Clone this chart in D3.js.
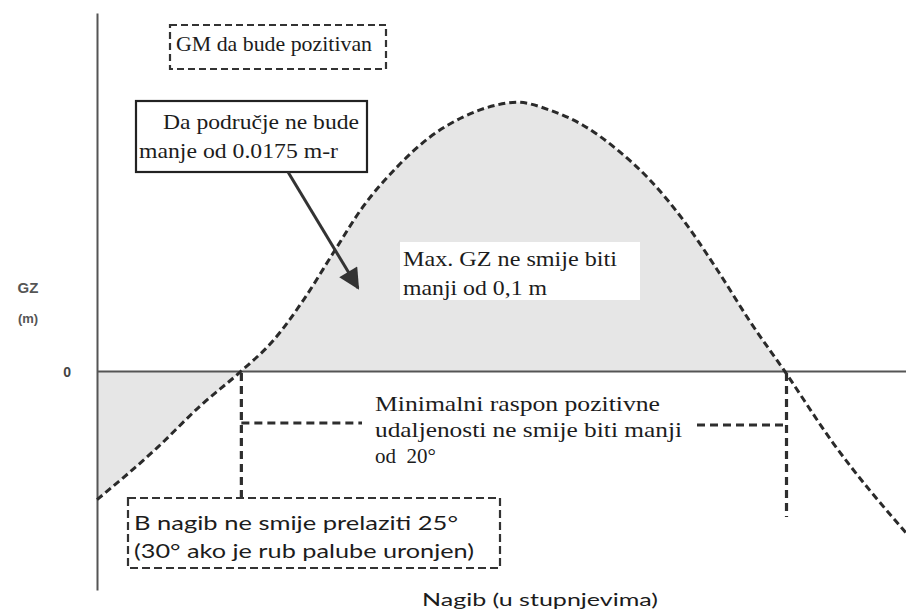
<!DOCTYPE html>
<html><head><meta charset="utf-8">
<script src="https://cdn.jsdelivr.net/npm/d3@7"></script>
<style>body{margin:0;background:#fff}svg{display:block}text{white-space:pre}</style>
</head><body>
<svg id="c" width="906" height="615"></svg>
<script>
// ---- data ----
const heelDeg  = [0, 4.2, 7.2, 10.1, 12.3, 14.5, 16.6, 18.6, 21.0, 23.3, 25.6, 28.0, 29.4, 31.7, 34.0, 36.4, 38.7, 41.0, 43.4, 45.7, 48.1, 51.5, 56.6];
const gzMetres = [-0.241, -0.144, -0.066, 0, 0.056, 0.135, 0.224, 0.307, 0.382, 0.438, 0.475, 0.498, 0.503, 0.488, 0.460, 0.414, 0.357, 0.283, 0.189, 0.092, 0, -0.135, -0.303];
const yTickValues = [0];
const yTickLabels = ["0"];
const yTitle = ["GZ", "(m)"];
const xTitle = "Nagib (u stupnjevima)";
const rangeStartDeg = 10.1;
const rangeEndDeg = 48.1;
const noteGM = ["GM da bude pozitivan"];
const noteArea = ["Da područje ne bude", "manje od 0.0175 m-r"];
const noteMax = ["Max. GZ ne smije biti", "manji od 0,1 m"];
const noteRange = ["Minimalni raspon pozitivne", "udaljenosti ne smije biti manji", "od  20°"];
const noteHeel = ["B nagib ne smije prelaziti 25°", "(30° ako je rub palube uronjen)"];

const pts = heelDeg.map((d, i) => ({x: d, y: gzMetres[i]}));

const svg = d3.select("#c");
const x = d3.scaleLinear().domain([0, 56.6]).range([97, 906]);
const y = d3.scaleLinear().domain([-0.41, 0.67]).range([590, 13]);

const ink = "#1c1c1c";
const serif = "'Liberation Serif', 'DejaVu Serif', serif";
const sans = "Lato, 'Open Sans', sans-serif";

// shaded area between curve and zero line up to the second zero crossing
const fillPts = pts.filter(p => p.x <= rangeEndDeg);
svg.append("path")
  .datum(fillPts)
  .attr("fill", "#e6e6e6")
  .attr("d", d3.area().x(p => x(p.x)).y0(y(0)).y1(p => y(p.y)).curve(d3.curveMonotoneX));

// axes
const yAxis = svg.append("g").attr("transform", `translate(${x(0)},0)`)
  .call(d3.axisLeft(y).tickValues(yTickValues).tickFormat((d, i) => yTickLabels[i]).tickSize(0).tickPadding(26));
yAxis.select(".domain").attr("stroke", "#555").attr("stroke-width", 2);
yAxis.selectAll("text").attr("font-family", "'Liberation Sans', Arial, sans-serif")
  .attr("font-size", 14).attr("font-weight", "bold").attr("fill", "#444").attr("dy", "0.4em");

const xAxis = svg.append("g").attr("transform", `translate(0,${y(0)})`)
  .call(d3.axisBottom(x).tickValues([]).tickSizeOuter(0));
xAxis.select(".domain").attr("stroke", "#555").attr("stroke-width", 2);

// axis titles
svg.append("text").attr("x", 28).attr("y", 293).attr("text-anchor", "middle")
  .attr("font-family", "'Liberation Sans', Arial, sans-serif").attr("font-size", 15).attr("font-weight", "bold")
  .attr("fill", "#555").text(yTitle[0]);
svg.append("text").attr("x", 28).attr("y", 323).attr("text-anchor", "middle")
  .attr("font-family", "'Liberation Sans', Arial, sans-serif").attr("font-size", 13).attr("font-weight", "bold")
  .attr("fill", "#555").text(yTitle[1]);
svg.append("text").attr("x", 422).attr("y", 606).attr("textLength", 236).attr("lengthAdjust", "spacingAndGlyphs")
  .attr("font-family", sans).attr("font-size", 18).attr("fill", ink).text(xTitle);

// GZ curve
svg.append("path")
  .datum(pts)
  .attr("fill", "none").attr("stroke", "#2a2a2a").attr("stroke-width", 3)
  .attr("stroke-dasharray", "7,4")
  .attr("d", d3.line().x(p => x(p.x)).y(p => y(p.y)).curve(d3.curveMonotoneX));

function lines(arr, xs, y0, dy, widths, size, family) {
  arr.forEach((t, i) => {
    const el = svg.append("text").attr("x", Array.isArray(xs) ? xs[i] : xs).attr("y", y0 + i * dy)
      .attr("font-family", family).attr("font-size", size).attr("fill", ink).text(t);
    if (widths && widths[i]) el.attr("textLength", widths[i]).attr("lengthAdjust", "spacingAndGlyphs");
  });
}

// "Max GZ" white label box
svg.append("rect").attr("x", 400).attr("y", 242).attr("width", 240).attr("height", 58).attr("fill", "#fff");
lines(noteMax, 403, 266, 29, [214, 144], 21, serif);

// GM dashed box
svg.append("rect").attr("x", 170).attr("y", 25).attr("width", 216).attr("height", 44)
  .attr("fill", "none").attr("stroke", "#333").attr("stroke-width", 2.2).attr("stroke-dasharray", "7,4");
lines(noteGM, 176, 51, 0, [196], 21, serif);

// area note solid box
svg.append("rect").attr("x", 136).attr("y", 101).attr("width", 231).attr("height", 71)
  .attr("fill", "#fff").attr("stroke", "#222").attr("stroke-width", 2.2);
lines(noteArea, [163, 139], 129, 29, [196, 199], 22, serif);

// arrow
const defs = svg.append("defs");
defs.append("marker").attr("id", "ah").attr("viewBox", "0 0 10 10").attr("refX", 9).attr("refY", 5)
  .attr("markerWidth", 8).attr("markerHeight", 7).attr("markerUnits", "strokeWidth").attr("orient", "auto")
  .append("path").attr("d", "M0,0 L10,5 L0,10 z").attr("fill", "#333");
svg.append("line").attr("x1", 288).attr("y1", 172).attr("x2", 358).attr("y2", 288)
  .attr("stroke", "#333").attr("stroke-width", 3).attr("marker-end", "url(#ah)");

// range bracket
function dline(x1, y1, x2, y2) {
  svg.append("line").attr("x1", x1).attr("y1", y1).attr("x2", x2).attr("y2", y2)
    .attr("stroke", "#2e2e2e").attr("stroke-width", 3.2).attr("stroke-dasharray", "8,5");
}
dline(x(rangeStartDeg), y(0) + 2, x(rangeStartDeg), 497);
dline(x(rangeStartDeg), 423, 362, 423);
dline(x(rangeEndDeg) + 2, y(0) + 2, x(rangeEndDeg) + 2, 517);
dline(697, 425, x(rangeEndDeg) + 2, 425);
lines(noteRange, 375, 411, 26, [285, 307, null], 21, serif);

// heel note dashed box
svg.append("rect").attr("x", 128).attr("y", 498).attr("width", 372).attr("height", 70)
  .attr("fill", "none").attr("stroke", "#333").attr("stroke-width", 2.2).attr("stroke-dasharray", "8,4");
lines(noteHeel, 134, 530, 28, [324, 340], 19, sans);
</script>
</body></html>
